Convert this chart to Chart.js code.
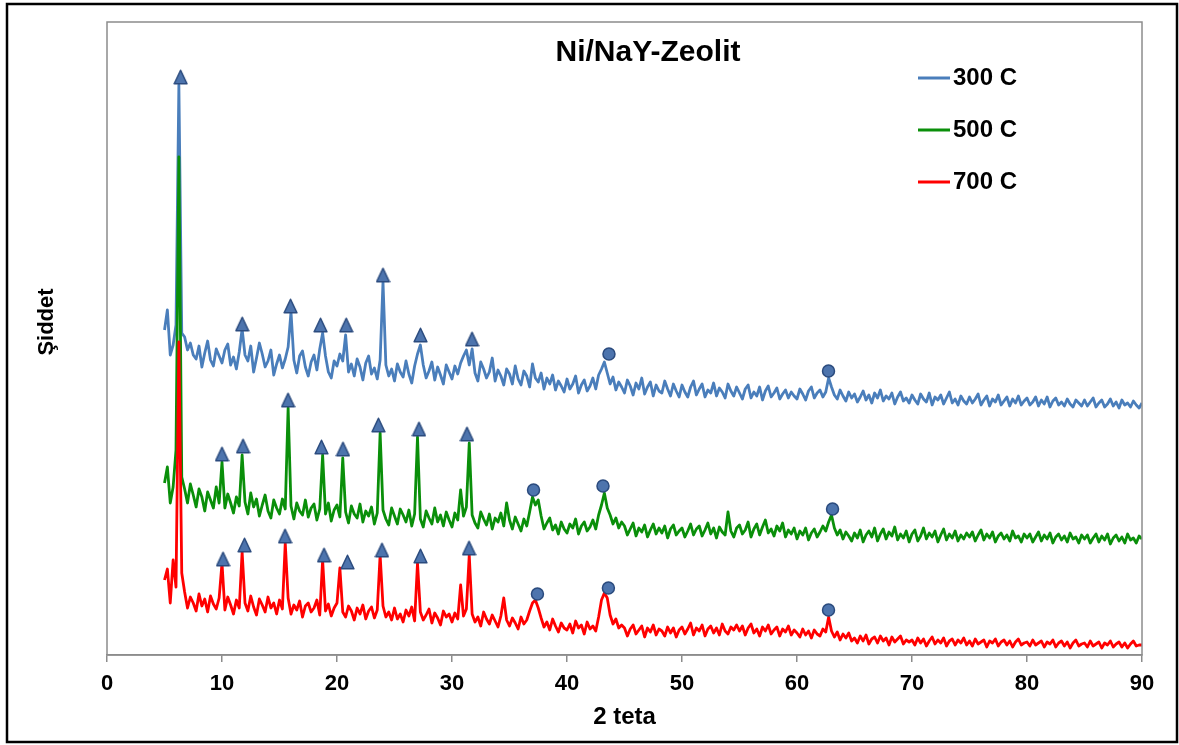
<!DOCTYPE html>
<html lang="tr">
<head>
<meta charset="utf-8">
<title>Ni/NaY-Zeolit XRD</title>
<script src="https://cdn.jsdelivr.net/npm/chart.js@4.4.1/dist/chart.umd.min.js"></script>
<style>
  html, body { margin: 0; padding: 0; background: #fff; }
  #xrd { display: block; }
</style>
</head>
<body>
<canvas id="xrd" width="1179" height="745"></canvas>
<script>
// Diffractograms are sampled on one grid: 5..90 deg 2θ, 0.25 deg step.
// Curves are already offset vertically (arbitrary units).
const SCAN_START = 5;
const SCAN_STEP = 0.25;

const seriesLabels = ['300 C', '500 C', '700 C'];
const seriesColors = ['#4a7ebb', '#0a8f0a', '#ff0000'];

const intensity300 = [
  325, 345, 300, 310, 330, 570, 322, 318, 305, 312, 300, 296, 309, 288, 302, 314, 295, 289, 306, 299,
  292, 305, 311, 290, 298, 286, 303, 326, 300, 294, 309, 283, 297, 312, 301, 288, 294, 305, 280, 291,
  300, 287, 296, 308, 343, 295, 282, 299, 304, 288, 279, 293, 300, 285, 306, 322, 299, 283, 277, 294,
  289, 301, 294, 320, 283, 291, 279, 296, 288, 275, 292, 299, 281, 287, 276, 295, 373, 290, 279, 286,
  274, 291, 283, 278, 294, 281, 272, 289, 301, 310, 290, 277, 284, 293, 275, 288, 280, 271, 290, 283,
  276, 289, 281, 292, 299, 305, 290, 306, 282, 274, 293, 286, 277, 283, 297, 274, 285, 279, 270, 286,
  281, 271, 289, 276, 270, 284, 279, 268, 291, 277, 273, 282, 266, 277, 271, 280, 265, 274, 269, 263,
  276, 266, 271, 279, 262, 270, 275, 264, 269, 277, 266, 280, 286, 293, 282, 271, 278, 265, 273, 268,
  262, 275, 269, 260, 272, 266, 277, 261, 268, 273, 259, 270, 264, 262, 274, 266, 259, 271, 264, 258,
  270, 263, 258, 268, 274, 260, 266, 271, 258, 265, 262, 272, 259, 267, 263, 257, 271, 264, 259, 268,
  262, 256, 266, 270, 257, 263, 259, 268, 255, 264, 269, 258, 262, 267, 256, 261, 265, 257, 263, 259,
  256, 266, 261, 255, 264, 268, 257, 262, 265, 258, 263, 277, 268, 260, 256, 265, 259, 254, 263, 257,
  261, 253, 258, 264, 255, 260, 252, 262, 257, 265, 254, 259, 256, 262, 251, 258, 263, 254, 257, 252,
  260, 255, 251, 261, 256, 253, 262, 250, 258, 255, 260, 251, 257, 263, 252, 256, 250, 259, 254, 251,
  258, 252, 256, 261, 250, 255, 259, 249, 256, 253, 260, 250, 254, 258, 249, 256, 252, 259, 250, 254,
  257, 250, 253, 258, 249, 255, 251, 258, 248, 254, 257, 250, 253, 249, 256, 251, 248, 255, 252, 249,
  255, 249, 253, 257, 248, 252, 255, 248, 251, 256, 249, 253, 247, 255, 250, 252, 248, 254, 250, 247,
  252
];

const intensity500 = [
  172, 188, 152, 168, 205, 498, 178, 166, 152, 171, 160, 148, 166, 158, 144, 163, 155, 147, 168, 152,
  193, 147, 161, 152, 142, 158, 149, 200, 153, 141, 162, 148, 156, 139, 150, 160, 144, 137, 155, 147,
  141, 156, 146, 247, 149, 136, 152, 144, 140, 155, 138, 147, 151, 135, 146, 200, 141, 152, 134, 145,
  150, 138, 197, 143, 132, 149, 141, 137, 151, 133, 144, 139, 148, 131, 142, 222, 145, 136, 130, 147,
  139, 131, 146, 140, 133, 145, 129, 141, 218, 136, 128, 144, 137, 131, 147, 133, 140, 129, 143, 135,
  128, 142, 135, 165, 139, 148, 212, 140, 132, 127, 143, 136, 130, 141, 126, 137, 133, 142, 129, 152,
  135, 126, 138, 131, 124, 136, 129, 143, 158, 150, 155, 139, 126, 132, 137, 125, 130, 121, 133, 126,
  122, 131, 127, 136, 121, 129, 133, 124, 128, 135, 126, 140, 150, 162, 147, 140, 131, 137, 127, 133,
  129, 120, 126, 132, 119, 127, 123, 130, 118, 125, 131, 121, 127, 122, 129, 117, 126, 130, 120, 124,
  127, 118, 124, 131, 120, 126, 129, 119, 125, 132, 121, 127, 117, 128, 123, 120, 143, 124, 118, 127,
  130, 121, 125, 133, 118, 126, 131, 120, 128, 135, 122, 126, 119, 129, 124, 132, 118, 125, 121, 127,
  116, 124, 120, 127, 115, 122, 126, 118, 123, 129, 124, 133, 140, 127, 120, 125, 116, 123, 119, 114,
  122, 117, 125, 113, 120, 124, 118, 127, 114, 121, 126, 116, 123, 119, 128, 115, 121, 117, 124, 113,
  121, 125, 114, 119, 127, 116, 122, 118, 124, 113, 120, 126, 115, 121, 117, 124, 114, 120, 116, 122,
  118, 123, 114, 120, 125, 115, 121, 117, 123, 113, 119, 122, 116, 120, 114, 124, 117, 119, 113, 121,
  117, 121, 113, 118, 123, 114, 120, 116, 122, 112, 118, 121, 115, 119, 113, 122, 116, 118, 112, 120,
  116, 120, 112, 117, 121, 113, 119, 115, 121, 111, 117, 120, 114, 118, 112, 121, 115, 117, 112, 119,
  116
];

const intensity700 = [
  75, 86, 52, 95, 68, 313, 82, 63, 47, 58, 52, 44, 61, 49, 56, 43, 59, 51, 46, 57,
  92, 45, 58, 50, 41, 55, 47, 103, 52, 44, 59, 48, 40, 56, 50, 43, 58, 47, 52, 41,
  55, 46, 112, 57, 41, 50, 45, 54, 38, 49, 52, 43, 47, 55, 40, 95, 44, 51, 39, 47,
  52, 87, 43, 38, 49, 44, 35, 47, 41, 50, 36, 44, 48, 37, 45, 100, 49, 38, 43, 35,
  47, 36, 41, 33, 45, 39, 48, 34, 92, 43, 35, 40, 46, 32, 42, 37, 30, 44, 38, 41,
  33, 42, 36, 70, 39, 46, 100, 41, 33, 38, 29, 43, 36, 31, 40, 34, 28, 39, 57, 35,
  29, 37, 32, 26, 38, 31, 35, 44, 52, 55, 47, 37, 28, 33, 25, 36, 29, 23, 32, 27,
  25, 31, 22, 34, 27, 30, 21, 33, 26, 29, 24, 38, 55, 62, 57, 40, 31, 36, 27, 30,
  27, 19, 26, 30, 21, 25, 29, 18, 27, 23, 30, 20, 26, 24, 19, 28, 22, 27, 18, 25,
  28, 21, 26, 32, 20, 27, 24, 30, 19, 26, 29, 22, 27, 20, 31, 24, 21, 28, 25, 30,
  24, 29, 20, 27, 31, 22, 26, 19, 28, 24, 30, 21, 25, 28, 19, 26, 23, 29, 20, 25,
  22, 18, 26, 20, 24, 17, 25, 21, 19, 26, 23, 38, 24, 18, 23, 15, 21, 17, 22, 14,
  17, 12, 19, 14, 20, 11, 16, 18, 12, 19, 14, 17, 10, 18, 13, 16, 19, 11, 15, 13,
  15, 10, 17, 12, 16, 9, 14, 18, 11, 15, 12, 17, 9, 14, 16, 10, 15, 12, 17, 10,
  14, 9, 16, 11, 13, 15, 8, 14, 12, 16, 9, 13, 15, 10, 14, 8, 13, 16, 10, 12,
  13, 9, 15, 10, 12, 14, 8, 13, 11, 15, 8, 12, 14, 9, 13, 7, 12, 15, 9, 11,
  12, 8, 14, 9, 11, 13, 7, 12, 10, 14, 8, 11, 13, 8, 12, 7, 11, 14, 9, 10,
  10
];

// NaY reflections (triangles) and NiO reflections (circles), placed above each peak
const nayAngles300 = [6.4, 11.76, 15.96, 18.57, 20.8, 24.0, 27.26, 31.74];
const nayMarks300 = [578, 331, 349, 330, 330, 380, 320, 316];
const nayAngles500 = [10.0, 11.83, 15.74, 18.65, 20.52, 23.6, 27.13, 31.3];
const nayMarks500 = [201, 209, 255, 208, 206, 230, 226, 221];
const nayAngles700 = [10.09, 11.96, 15.48, 18.87, 20.91, 23.91, 27.26, 31.48];
const nayMarks700 = [96, 110, 119, 100, 93, 105, 99, 107];

const nioAngles300 = [43.65, 62.74];
const nioMarks300 = [301, 284];
const nioAngles500 = [37.09, 43.13, 63.09];
const nioMarks500 = [165, 169, 146];
const nioAngles700 = [37.43, 43.6, 62.74];
const nioMarks700 = [61, 67, 45];

const xTicks = [0, 10, 20, 30, 40, 50, 60, 70, 80, 90];

const MARK_FILL = '#4d74ad';
const MARK_EDGE = '#2b4b7e';
const FONT = '"Liberation Sans", Arial, sans-serif';

function scan(values) {
  return values.map((y, i) => ({ x: SCAN_START + i * SCAN_STEP, y }));
}

function marks(angleLists, heightLists) {
  const out = [];
  angleLists.forEach((angles, s) => {
    angles.forEach((x, i) => out.push({ x, y: heightLists[s][i] }));
  });
  return out;
}

// upright triangle glyph used as point style
function triangleGlyph() {
  const c = document.createElement('canvas');
  c.width = 15;
  c.height = 16;
  const g = c.getContext('2d');
  g.beginPath();
  g.moveTo(7.5, 1.2);
  g.lineTo(13.9, 14.8);
  g.lineTo(1.1, 14.8);
  g.closePath();
  g.fillStyle = MARK_FILL;
  g.fill();
  g.lineJoin = 'round';
  g.lineWidth = 1.5;
  g.strokeStyle = MARK_EDGE;
  g.stroke();
  return c;
}

function lineSet(label, values, color, order) {
  return {
    label,
    data: scan(values),
    borderColor: color,
    backgroundColor: color,
    borderWidth: 2.8,
    borderJoinStyle: 'round',
    pointRadius: 0,
    tension: 0,
    order,
  };
}

// frame, title, rotated y label and the in-plot legend
const decorations = {
  id: 'decorations',
  afterDraw(chart) {
    const { ctx, chartArea: a } = chart;
    ctx.save();
    ctx.strokeStyle = '#000';
    ctx.lineWidth = 2.5;
    ctx.strokeRect(7, 4, 1170, 738);

    ctx.strokeStyle = '#8c8c8c';
    ctx.lineWidth = 1.5;
    ctx.strokeRect(a.left, a.top, a.right - a.left, a.bottom - a.top);

    ctx.fillStyle = '#000';
    ctx.textAlign = 'center';
    ctx.textBaseline = 'middle';
    ctx.font = `bold 30px ${FONT}`;
    ctx.fillText('Ni/NaY-Zeolit', 648, 53);

    ctx.save();
    ctx.translate(47, 322);
    ctx.rotate(-Math.PI / 2);
    ctx.font = `bold 22px ${FONT}`;
    ctx.fillText('Şiddet', 0, 0);
    ctx.restore();

    ctx.font = `bold 24px ${FONT}`;
    ctx.textAlign = 'left';
    seriesLabels.forEach((label, i) => {
      const y = 78 + i * 52;
      ctx.strokeStyle = seriesColors[i];
      ctx.lineWidth = 3;
      ctx.beginPath();
      ctx.moveTo(918, y);
      ctx.lineTo(950, y);
      ctx.stroke();
      ctx.fillText(label, 953, y);
    });
    ctx.restore();
  },
};

new Chart(document.getElementById('xrd'), {
  type: 'line',
  data: {
    datasets: [
      {
        label: 'NaY',
        data: marks([nayAngles300, nayAngles500, nayAngles700], [nayMarks300, nayMarks500, nayMarks700]),
        showLine: false,
        pointStyle: triangleGlyph(),
        pointRadius: 7,
        order: 0,
      },
      {
        label: 'NiO',
        data: marks([nioAngles300, nioAngles500, nioAngles700], [nioMarks300, nioMarks500, nioMarks700]),
        showLine: false,
        pointStyle: 'circle',
        pointRadius: 6,
        pointBackgroundColor: MARK_FILL,
        pointBorderColor: MARK_EDGE,
        pointBorderWidth: 1.5,
        order: 0,
      },
      lineSet(seriesLabels[2], intensity700, seriesColors[2], 1),
      lineSet(seriesLabels[1], intensity500, seriesColors[1], 2),
      lineSet(seriesLabels[0], intensity300, seriesColors[0], 3),
    ],
  },
  options: {
    responsive: false,
    animation: false,
    devicePixelRatio: 1,
    events: [],
    layout: { padding: { left: 107, right: 37, top: 22, bottom: 0 } },
    scales: {
      x: {
        type: 'linear',
        min: 0,
        max: 90,
        afterFit: (scale) => { scale.height = 90; },
        afterBuildTicks: (scale) => { scale.ticks = xTicks.map((value) => ({ value })); },
        border: { display: true, color: '#8c8c8c', width: 1.5 },
        grid: { drawOnChartArea: false, drawTicks: true, tickLength: 7, color: '#8c8c8c', lineWidth: 1.5 },
        ticks: { color: '#000', padding: 9, font: { family: FONT, size: 22, weight: 'bold' } },
        title: {
          display: true,
          text: '2 teta',
          color: '#000',
          padding: { top: 0, bottom: 13 },
          font: { family: FONT, size: 24, weight: 'bold' },
        },
      },
      y: { display: false, min: 0, max: 633 },
    },
    plugins: {
      legend: { display: false },
      tooltip: { enabled: false },
    },
  },
  plugins: [decorations],
});
</script>
</body>
</html>
